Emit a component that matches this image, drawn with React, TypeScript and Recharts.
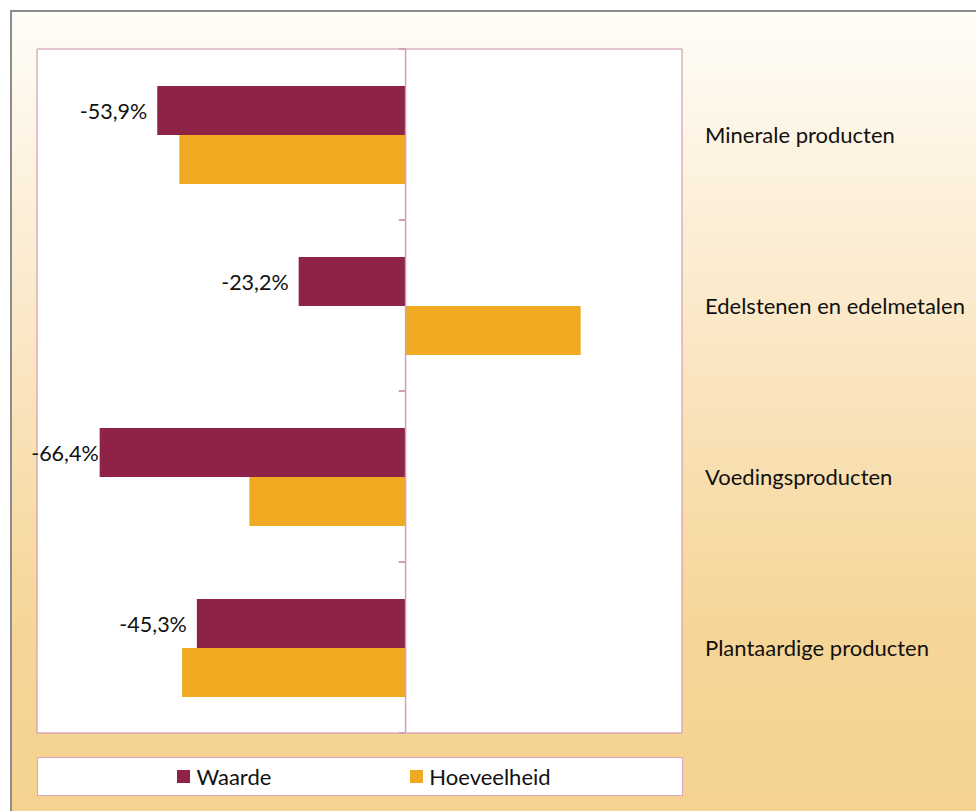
import { BarChart, Bar, XAxis, YAxis, ReferenceLine, ReferenceArea, LabelList } from 'recharts';

// Values (percent change)
const categories = ['Minerale producten', 'Edelstenen en edelmetalen', 'Voedingsproducten', 'Plantaardige producten'];
const waarde = [-53.9, -23.2, -66.4, -45.3];
const hoeveelheid = [-49.1, 38.0, -33.9, -48.5];
const xDomain = [-80, 60];

const seriesInfo = [
  { key: 'waarde', name: 'Waarde', color: '#8E2247' },
  { key: 'hoeveelheid', name: 'Hoeveelheid', color: '#EFAA22' },
];

const data = categories.map((c, i) => ({ name: c, waarde: waarde[i], hoeveelheid: hoeveelheid[i] }));

const FONT = 'Lato, "Open Sans", sans-serif';
const margin = { top: 49, right: 0, left: 37, bottom: 78 };

const fmt = (v: number) => `${v.toFixed(1).replace('.', ',')}%`;

// Excel-style outside-end label, pulled in when it would run off the plot
const WaardeLabel = (props: any) => {
  const { x, y, width, height, value } = props;
  const barLeft = Math.min(x, x + width);
  const text = fmt(value);
  const textW = text.length * 11;
  let right = barLeft - 10;
  if (right - textW < margin.left - 5) right = barLeft - 1;
  return (
    <text x={right} y={y + height / 2} textAnchor="end" dominantBaseline="central" fontSize={21.5} fontFamily={FONT} fill="#111">
      {text}
    </text>
  );
};

const CategoryTick = (props: any) => {
  const { x, y, payload } = props;
  return (
    <text x={x} y={y} textAnchor="start" dominantBaseline="central" fontSize={22} fontFamily={FONT} fill="#111">
      {payload.value}
    </text>
  );
};

export default function App() {
  return (
    <div style={{ position: 'relative', width: 976, height: 811, overflow: 'hidden', background: '#fff' }}>
      <style>{'body{margin:0}'}</style>
      <div
        style={{
          position: 'absolute',
          left: 10,
          top: 10,
          width: 980,
          height: 820,
          borderLeft: '2px solid #8c8c8c',
          borderTop: '2px solid #8c8c8c',
          background: 'linear-gradient(to bottom, #fffdf8 0%, #fcefd8 25%, #f9e2b8 50%, #f6d698 75%, #f5d28f 100%)',
        }}
      />
      <div style={{ position: 'absolute', left: 0, top: 0 }}>
        <BarChart
          width={976}
          height={811}
          data={data}
          layout="vertical"
          margin={margin}
          barSize={49}
          barGap={0}
        >
          <ReferenceArea x1={xDomain[0]} x2={xDomain[1]} fill="#ffffff" fillOpacity={1} stroke="#c98aa8" strokeWidth={1} />
          <XAxis type="number" domain={xDomain} hide />
          <YAxis
            type="category"
            dataKey="name"
            orientation="right"
            width={294}
            axisLine={false}
            tickLine={false}
            tickSize={0}
            tickMargin={23}
            tick={<CategoryTick />}
            interval={0}
          />
          {seriesInfo.map((s) => (
            <Bar key={s.key} dataKey={s.key} name={s.name} fill={s.color} isAnimationActive={false}>
              {s.key === 'waarde' && <LabelList dataKey="waarde" content={<WaardeLabel />} />}
            </Bar>
          ))}
          <ReferenceLine x={0} stroke="#d49fb9" strokeWidth={1.5} />
          {categories.map((c) => (
            <ReferenceLine
              key={c}
              segment={[{ x: -1.5, y: c }, { x: 0, y: c }]}
              position="start"
              stroke="#d49fb9"
              strokeWidth={2}
            />
          ))}
          <ReferenceLine
            segment={[{ x: -1.5, y: categories[categories.length - 1] }, { x: 0, y: categories[categories.length - 1] }]}
            position="end"
            stroke="#d49fb9"
            strokeWidth={2}
          />
        </BarChart>
      </div>
      <div
        style={{
          position: 'absolute',
          left: 37,
          top: 757,
          width: 644,
          height: 37,
          background: '#fff',
          border: '1px solid #d6a6c2',
          display: 'flex',
          alignItems: 'center',
          justifyContent: 'center',
          fontFamily: FONT,
          fontSize: 22,
          color: '#111',
        }}
      >
        {seriesInfo.map((s, i) => (
          <div key={s.key} style={{ display: 'flex', alignItems: 'center', marginRight: i === 0 ? 139 : 0, marginLeft: i === 0 ? 8 : 0 }}>
            <span style={{ display: 'inline-block', width: 13, height: 13, background: s.color, marginRight: 6 }} />
            <span>{s.name}</span>
          </div>
        ))}
      </div>
    </div>
  );
}
